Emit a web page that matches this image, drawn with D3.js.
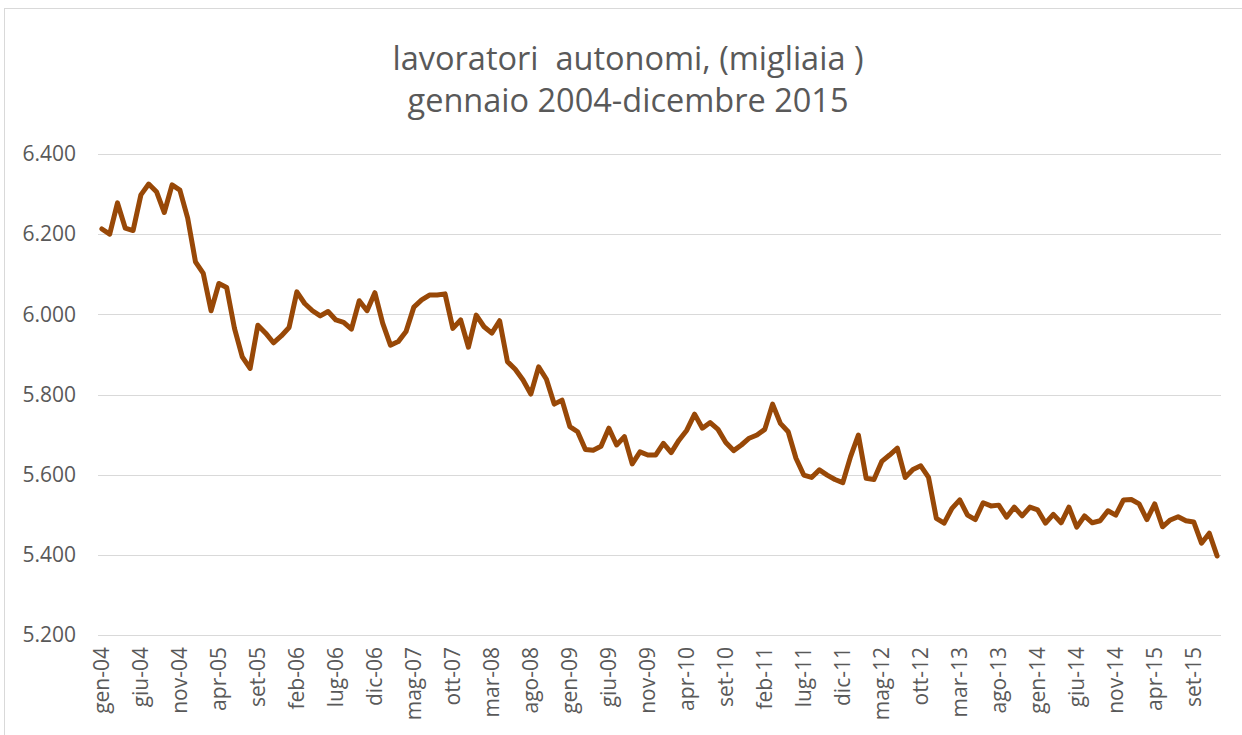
<!DOCTYPE html>
<html>
<head>
<meta charset="utf-8">
<script src="https://cdn.jsdelivr.net/npm/d3@7"></script>
<style>
  html, body { margin: 0; padding: 0; background: #fff; }
  svg { display: block; }
  text { font-family: "Open Sans", "Noto Sans", sans-serif; fill: #595959; }
</style>
</head>
<body>
<svg id="chart" width="1242" height="735"></svg>
<script>
const titleLines = ["lavoratori  autonomi, (migliaia )", "gennaio 2004-dicembre 2015"];
const monthNames = ["gen","feb","mar","apr","mag","giu","lug","ago","set","ott","nov","dic"];
const years = ["04","05","06","07","08","09","10","11","12","13","14","15"];
const categories = [];
years.forEach(y => monthNames.forEach(m => categories.push(m + "-" + y)));

const values = [
  6.213, 6.200, 6.278, 6.215, 6.209, 6.298, 6.325, 6.306, 6.254, 6.323, 6.310, 6.240,
  6.131, 6.102, 6.009, 6.077, 6.067, 5.965, 5.894, 5.865, 5.973, 5.953, 5.929, 5.946,
  5.967, 6.056, 6.027, 6.009, 5.996, 6.007, 5.986, 5.980, 5.963, 6.034, 6.009, 6.054,
  5.978, 5.923, 5.932, 5.957, 6.018, 6.036, 6.048, 6.048, 6.051, 5.965, 5.986, 5.918,
  5.998, 5.969, 5.953, 5.984, 5.882, 5.863, 5.836, 5.801, 5.869, 5.838, 5.776, 5.786,
  5.720, 5.707, 5.663, 5.661, 5.671, 5.716, 5.674, 5.695, 5.627, 5.657, 5.649, 5.649,
  5.678, 5.655, 5.686, 5.711, 5.751, 5.716, 5.730, 5.713, 5.680, 5.660, 5.674, 5.691,
  5.699, 5.713, 5.776, 5.728, 5.707, 5.641, 5.599, 5.593, 5.612, 5.599, 5.588, 5.580,
  5.645, 5.699, 5.591, 5.588, 5.633, 5.649, 5.666, 5.593, 5.613, 5.622, 5.593, 5.491,
  5.479, 5.516, 5.537, 5.499, 5.488, 5.530, 5.522, 5.524, 5.494, 5.519, 5.497, 5.519,
  5.512, 5.479, 5.501, 5.480, 5.519, 5.469, 5.497, 5.480, 5.485, 5.510, 5.499, 5.537,
  5.538, 5.527, 5.488, 5.527, 5.470, 5.487, 5.495, 5.485, 5.482, 5.429, 5.454, 5.397
];
const yTicks = [5.2, 5.4, 5.6, 5.8, 6.0, 6.2, 6.4];
const labelEvery = 5;

const svg = d3.select("#chart");
const W = 1242, H = 735;
const plot = { left: 98, right: 1221, top: 154, bottom: 635 };

// outer chart border
svg.append("rect")
  .attr("x", 4.5).attr("y", 8.5)
  .attr("width", W + 10).attr("height", H + 10)
  .attr("fill", "none").attr("stroke", "#d9d9d9").attr("stroke-width", 1);

const x = d3.scaleBand().domain(categories).range([plot.left, plot.right]).paddingInner(0).paddingOuter(0);
const y = d3.scaleLinear().domain([5.2, 6.4]).range([plot.bottom, plot.top]);
const cx = d => x(d) + x.bandwidth() / 2;

// title
const title = svg.append("text")
  .attr("text-anchor", "middle")
  .style("font-size", "32.5px")
  .style("white-space", "pre");
title.selectAll("tspan").data(titleLines).join("tspan")
  .attr("x", 628)
  .attr("y", (d, i) => 70 + i * 42)
  .text(d => d);

// gridlines
const yAxisGrid = d3.axisLeft(y).tickValues(yTicks).tickSize(-(plot.right - plot.left)).tickFormat("");
const gGrid = svg.append("g").attr("transform", `translate(${plot.left},0)`).call(yAxisGrid);
gGrid.select(".domain").remove();
gGrid.selectAll("line").attr("stroke", "#d9d9d9").attr("stroke-width", 1)
  .attr("shape-rendering", "crispEdges");

// y axis labels
const yAxis = d3.axisLeft(y).tickValues(yTicks).tickSize(0).tickPadding(22)
  .tickFormat(d => d3.format(".3f")(d));
const gY = svg.append("g").attr("transform", `translate(${plot.left},0)`).call(yAxis);
gY.select(".domain").remove();
gY.selectAll("text").style("font-size", "21px").attr("fill", "#595959")
  .style("font-family", '"Open Sans", sans-serif');

// x axis labels
const xAxis = d3.axisBottom(x)
  .tickValues(categories.filter((d, i) => i % labelEvery === 0))
  .tickSize(0);
const gX = svg.append("g").attr("transform", `translate(0,${plot.bottom})`).call(xAxis);
gX.select(".domain").remove();
gX.selectAll("text")
  .style("font-size", "21px").attr("fill", "#595959")
  .style("font-family", '"Open Sans", sans-serif')
  .attr("text-anchor", "end")
  .attr("transform", "rotate(-90)")
  .attr("x", -12).attr("y", 0).attr("dy", "0.35em");

// line
const line = d3.line().x((d, i) => cx(categories[i])).y(d => y(d));
svg.append("path")
  .datum(values)
  .attr("d", line)
  .attr("fill", "none")
  .attr("stroke", "#984807")
  .attr("stroke-width", 5)
  .attr("stroke-linejoin", "round")
  .attr("stroke-linecap", "round");
</script>
</body>
</html>
